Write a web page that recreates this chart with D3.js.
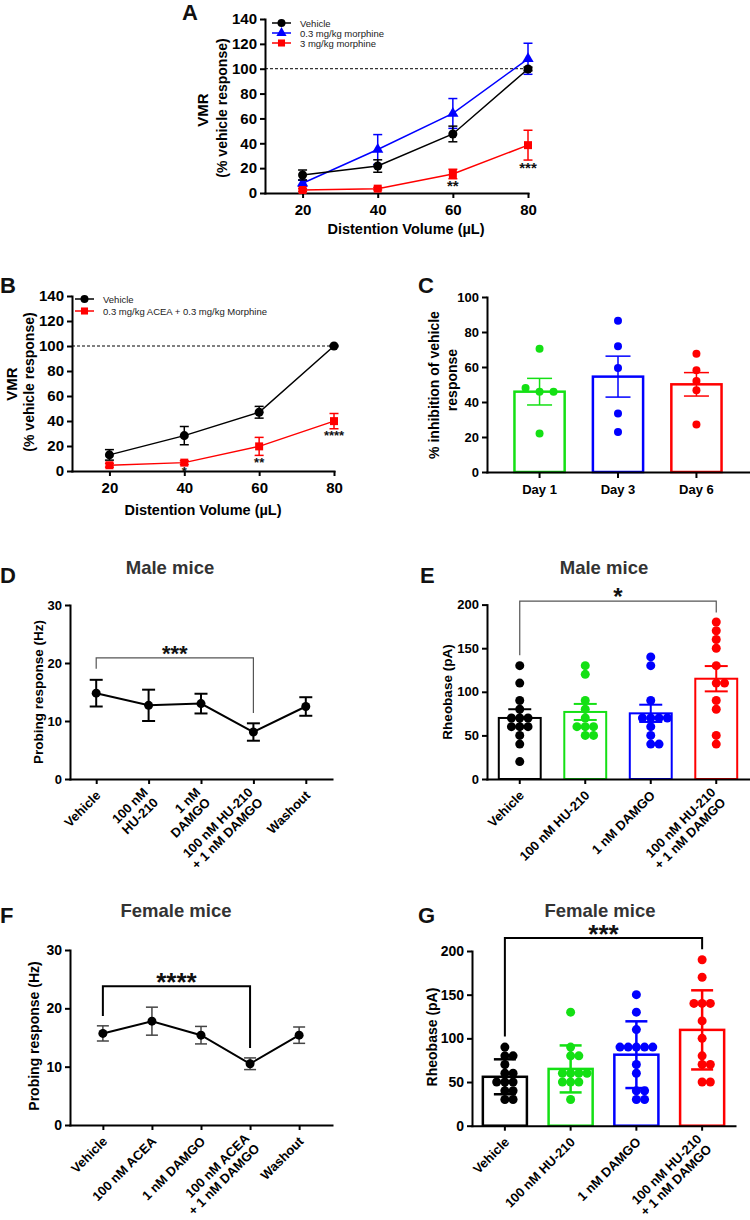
<!DOCTYPE html>
<html>
<head>
<meta charset="utf-8">
<script src="https://cdn.jsdelivr.net/npm/d3@7"></script>
<style>
  body { margin: 0; background: #fff; }
</style>
</head>
<body>
<svg id="figure" width="750" height="1220"></svg>
<script>
// ---- data ----
const volumes = [20, 40, 60, 80];
const vmrTicks = [0, 20, 40, 60, 80, 100, 120, 140];

// A
const aVehicle = [14.5, 21.7, 47.5, 99.8];
const aVehicleSem = [4, 5, 6.3, 1.5];
const aMorphLow = [7.8, 35, 64, 108];
const aMorphLowSem = [2.5, 12, 12, 12.5];
const aMorphHigh = [2.4, 3.5, 15.3, 38.5];
const aMorphHighSem = [1, 1, 3.8, 12];
const aStars = ['', '', '**', '***'];
const aLegend = ['Vehicle', '0.3 mg/kg morphine', '3 mg/kg morphine'];

// B
const bVehicle = [12.9, 28.3, 47, 100];
const bVehicleSem = [4.2, 7.3, 4.7, 0.5];
const bCombo = [4.6, 6.7, 19.7, 39.9];
const bComboSem = [1.5, 1.5, 7.2, 6.1];
const bStars = ['', '*', '**', '****'];
const bLegend = ['Vehicle', '0.3 mg/kg ACEA + 0.3 mg/kg Morphine'];

// C
const days = ['Day 1', 'Day 3', 'Day 6'];
const cTicks = [0, 20, 40, 60, 80, 100];
const cPoints = [
  [70.5, 48, 45.8, 45.8, 22],
  [86.5, 71.8, 59.4, 33.5, 22.9],
  [67.6, 58.1, 52, 46.7, 27.2]
];
const cMean = [45.9, 54.5, 50.1];
const cSem = [7.6, 11.7, 6.7];

// D
const dLabels = [['Vehicle'], ['100 nM', 'HU-210'], ['1 nM', 'DAMGO'], ['100 nM HU-210', '+ 1 nM DAMGO'], ['Washout']];
const dMean = [14.8, 12.7, 13.0, 8.1, 12.5];
const dSem = [2.3, 2.7, 1.7, 1.5, 1.6];
const dSigPair = [0, 3];
const dSigLevels = [20.9, 19, 11.4];
const dSigText = '***';

// E
const eLabels = [['Vehicle'], ['100 nM HU-210'], ['1 nM DAMGO'], ['100 nM HU-210', '+ 1 nM DAMGO']];
const ePoints = [
  [130, 110, 90, 80, 70, 70, 70, 60, 60, 60, 50, 40, 20],
  [130, 120, 90, 80, 70, 60, 60, 60, 50, 50],
  [140, 130, 90, 70, 70, 70, 70, 60, 50, 40, 40],
  [180, 170, 160, 150, 130, 110, 110, 90, 80, 50, 40]
];
const eMean = [70, 76.9, 75.3, 115];
const eSem = [10, 9.2, 9.9, 14.5];
const eSigPair = [0, 3];
const eSigLevels = [204, 142, 191];
const eSigText = '*';

// F
const fLabels = [['Vehicle'], ['100 nM ACEA'], ['1 nM DAMGO'], ['100 nM ACEA', '+ 1 nM DAMGO'], ['Washout']];
const fMean = [15.7, 17.8, 15.4, 10.5, 15.4];
const fSem = [1.3, 2.4, 1.5, 1.0, 1.4];
const fSigPair = [0, 3];
const fSigLevels = [23.8, 18.7, 13.2];
const fSigText = '****';

// G
const gLabels = eLabels;
const gPoints = [
  [90, 80, 80, 70, 60, 60, 50, 50, 50, 40, 40, 30, 30],
  [130, 90, 80, 80, 60, 60, 60, 60, 50, 50, 50, 30],
  [150, 130, 110, 90, 90, 90, 90, 90, 70, 60, 40, 40, 30, 30],
  [190, 170, 140, 140, 140, 120, 100, 80, 70, 70, 50, 50]
];
const gMean = [56, 65, 81.3, 109.7];
const gSd = [20, 26.9, 38.2, 45.3];
const gSigPair = [0, 3];
const gSigLevels = [215, 102, 202];
const gSigText = '***';

const rheoTicks = [0, 50, 100, 150, 200];
const hzTicks = [0, 10, 20, 30];

// ---- drawing ----
const FONT = '"Liberation Sans", Arial, Helvetica, sans-serif';
const GREEN = '#14e014';
const groupColors = ['#000', GREEN, '#0000ff', '#ff0000'];

const svg = d3.select('#figure').attr('font-family', FONT);
svg.append('rect').attr('width', 750).attr('height', 1220).attr('fill', '#fff');

function label(g, x, y, s, size, opts = {}) {
  return g.append('text')
    .attr('x', x).attr('y', y)
    .attr('font-size', size)
    .attr('font-weight', opts.weight || 'bold')
    .attr('fill', opts.fill || '#000')
    .attr('text-anchor', opts.anchor || 'middle')
    .text(s);
}

function vlabel(g, x, y, s, size) {
  return g.append('text')
    .attr('transform', `translate(${x},${y}) rotate(-90)`)
    .attr('dy', '0.35em')
    .attr('font-size', size).attr('font-weight', 'bold')
    .attr('text-anchor', 'middle')
    .text(s);
}

function styleAxis(sel, size) {
  sel.attr('font-family', FONT).attr('font-size', size);
  sel.select('.domain').attr('stroke', '#000').attr('stroke-width', 2).attr('stroke-linecap', 'square');
  sel.selectAll('.tick line').attr('stroke', '#000').attr('stroke-width', 2);
  sel.selectAll('.tick text').attr('font-weight', 'bold').attr('fill', '#000');
}

// rotated, possibly two-line category labels under an axis
function rotLabels(g, xs, labels, y0, size) {
  labels.forEach((lines, i) => {
    const n = lines.length;
    const t = g.append('text')
      .attr('transform', `translate(${xs(i) + 2},${y0 + 14 + (n - 1) * 2}) rotate(-45)`)
      .attr('text-anchor', 'end')
      .attr('font-size', size).attr('font-weight', 'bold');
    lines.forEach((s, j) => {
      t.append('tspan').attr('x', 0)
        .attr('dy', j === 0 ? `${0.35 - (n - 1) * 0.55}em` : '1.1em')
        .text(s);
    });
  });
}

function errorBar(g, x, yTop, yBot, half, color, width) {
  const e = g.append('g').attr('stroke', color).attr('stroke-width', width).attr('fill', 'none');
  e.append('line').attr('x1', x).attr('x2', x).attr('y1', yTop).attr('y2', yBot);
  e.append('line').attr('x1', x - half).attr('x2', x + half).attr('y1', yTop).attr('y2', yTop);
  e.append('line').attr('x1', x - half).attr('x2', x + half).attr('y1', yBot).attr('y2', yBot);
}

function bracket(g, x, y, pair, levels, text, color, width, starSize) {
  const [a, b] = pair;
  const [top, left, right] = levels;
  g.append('path')
    .attr('d', `M${x(a)},${y(left)}V${y(top)}H${x(b)}V${y(right)}`)
    .attr('fill', 'none').attr('stroke', color).attr('stroke-width', width);
  label(g, (x(a) + x(b)) / 2, y(top) - 10 + 0.58 * starSize, text, starSize, { fill: '#111' });
}

// ---------- A / B: dose-response lines ----------
function xySeries(g, x, y, vals, sems, color, symbol, size, stars, starSize) {
  const pts = volumes.map((v, i) => ({ x: x(v), m: vals[i], e: sems[i], s: stars ? stars[i] : '' }));
  g.append('path').datum(pts)
    .attr('d', d3.line().x(d => d.x).y(d => y(d.m)))
    .attr('fill', 'none').attr('stroke', color).attr('stroke-width', 1.5);
  pts.forEach(d => errorBar(g, d.x, y(d.m + d.e), y(d.m - d.e), 4.5, color, 1.5));
  g.selectAll(null).data(pts).join('path')
    .attr('transform', d => `translate(${d.x},${y(d.m)})`)
    .attr('d', d3.symbol(symbol, size))
    .attr('fill', color);
  pts.filter(d => d.s).forEach(d => {
    label(g, d.x, y(d.m - d.e) + 4 + 0.58 * starSize, d.s, starSize, { fill: '#111' });
  });
}

function legend(g, x0, y0, rows, items, size) {
  items.forEach((it, i) => {
    const yy = y0 + i * rows;
    g.append('line').attr('x1', x0).attr('x2', x0 + 19).attr('y1', yy).attr('y2', yy)
      .attr('stroke', it.color).attr('stroke-width', 1.5);
    g.append('path').attr('transform', `translate(${x0 + 9.5},${yy})`)
      .attr('d', d3.symbol(it.symbol, it.size)).attr('fill', it.color);
    label(g, x0 + 28, yy + 3.5, it.name, size, { weight: 'normal', anchor: 'start', fill: '#222' });
  });
}

function vmrPanel(g, x, y, x0, y0) {
  g.append('g').attr('transform', `translate(0,${y0})`)
    .call(d3.axisBottom(x).tickValues(volumes).tickSize(5).tickPadding(6).tickSizeOuter(0))
    .call(styleAxis, 15);
  g.append('g').attr('transform', `translate(${x0},0)`)
    .call(d3.axisLeft(y).tickValues(vmrTicks).tickSize(5).tickSizeOuter(0))
    .call(styleAxis, 15);
  g.append('line')
    .attr('x1', x0).attr('x2', x(80)).attr('y1', y(100)).attr('y2', y(100))
    .attr('stroke', '#000').attr('stroke-width', 1).attr('stroke-dasharray', '3,2');
}

// Panel A
{
  const g = svg.append('g');
  const x = d3.scaleLinear().domain([10, 80]).range([265, 528]);
  const y = d3.scaleLinear().domain([0, 140]).range([193, 19]);
  vmrPanel(g, x, y, 265, 193);
  xySeries(g, x, y, aMorphLow, aMorphLowSem, '#0000ff', d3.symbolTriangle, 55);
  xySeries(g, x, y, aVehicle, aVehicleSem, '#000', d3.symbolCircle, 64);
  xySeries(g, x, y, aMorphHigh, aMorphHighSem, '#ff0000', d3.symbolSquare, 64, aStars, 15);
  legend(g, 272, 23, 10, [
    { name: aLegend[0], color: '#000', symbol: d3.symbolCircle, size: 50 },
    { name: aLegend[1], color: '#0000ff', symbol: d3.symbolTriangle, size: 45 },
    { name: aLegend[2], color: '#ff0000', symbol: d3.symbolSquare, size: 50 }
  ], 9.5);
  label(g, 406, 234, 'Distention Volume (µL)', 14.5);
  vlabel(g, 203, 110, 'VMR', 15);
  vlabel(g, 222, 108, '(% vehicle response)', 14);
  label(g, 182, 20, 'A', 22, { anchor: 'start', fill: '#111' });
}

// Panel B
{
  const g = svg.append('g');
  const x = d3.scaleLinear().domain([10, 80]).range([72, 334]);
  const y = d3.scaleLinear().domain([0, 140]).range([471, 296]);
  vmrPanel(g, x, y, 72, 471);
  xySeries(g, x, y, bVehicle, bVehicleSem, '#000', d3.symbolCircle, 64);
  xySeries(g, x, y, bCombo, bComboSem, '#ff0000', d3.symbolSquare, 64, bStars, 13);
  legend(g, 75, 299, 12, [
    { name: bLegend[0], color: '#000', symbol: d3.symbolCircle, size: 50 },
    { name: bLegend[1], color: '#ff0000', symbol: d3.symbolSquare, size: 50 }
  ], 9.5);
  label(g, 203, 515, 'Distention Volume (µL)', 14.5);
  vlabel(g, 12, 384, 'VMR', 15);
  vlabel(g, 29, 382, '(% vehicle response)', 14);
  label(g, 0, 293, 'B', 22, { anchor: 'start', fill: '#111' });
}

// ---------- bar + scatter panels ----------
function swarm(vals, y, r, step) {
  const placed = [];
  vals.slice().sort((a, b) => a - b).forEach(v => {
    const py = y(v);
    let off = 0;
    for (let n = 0; n < 30; n++) {
      off = n === 0 ? 0 : (n % 2 ? 1 : -1) * Math.ceil(n / 2) * step;
      if (placed.every(p => Math.hypot(p.dx - off, p.py - py) >= r * 1.75)) break;
    }
    placed.push({ v, dx: off, py });
  });
  return placed;
}

function barGroups(g, x, y, cats, points, means, errs, o) {
  const bw = x.bandwidth();
  cats.forEach((c, i) => {
    const cx = x(c) + bw / 2;
    const col = groupColors[o.colorIdx ? o.colorIdx[i] : i];
    g.append('rect')
      .attr('x', x(c)).attr('y', y(means[i]))
      .attr('width', bw).attr('height', y(0) - y(means[i]))
      .attr('fill', '#fff').attr('stroke', col).attr('stroke-width', o.barStroke);
    g.selectAll(null).data(swarm(points[i], y, o.r, o.step)).join('circle')
      .attr('cx', d => cx + d.dx).attr('cy', d => d.py).attr('r', o.r)
      .attr('fill', col);
    errorBar(g, cx, y(means[i] + errs[i]), y(means[i] - errs[i]), o.cap, col, o.errStroke);
  });
}

// Panel C
{
  const g = svg.append('g');
  const x = d3.scaleBand().domain(days).range([487, 749]).paddingInner(0.36).paddingOuter(0.35);
  const y = d3.scaleLinear().domain([0, 100]).range([472, 297]);
  barGroups(g, x, y, days, cPoints, cMean, cSem,
    { r: 4, step: 14, cap: 12.5, barStroke: 2.5, errStroke: 1.5, colorIdx: [1, 2, 3] });
  g.append('g').attr('transform', 'translate(0,472)')
    .call(d3.axisBottom(x).tickSize(6).tickPadding(7).tickSizeOuter(0))
    .call(styleAxis, 13);
  g.append('g').attr('transform', 'translate(487,0)')
    .call(d3.axisLeft(y).tickValues(cTicks).tickSize(5).tickSizeOuter(0))
    .call(styleAxis, 13);
  vlabel(g, 434, 385, '% inhibition of vehicle', 14);
  vlabel(g, 452, 380, 'response', 14);
  label(g, 418, 293, 'C', 22, { anchor: 'start', fill: '#111' });
}

// ---------- D / F: line panels ----------
function probePanel(g, x, y, y0, labels, means, sems, o) {
  const idx = d3.range(means.length);
  g.append('g').attr('transform', `translate(0,${y0})`)
    .call(d3.axisBottom(x).tickFormat('').tickSize(5).tickSizeOuter(0))
    .call(styleAxis, 13);
  g.append('g').attr('transform', `translate(${x.range()[0]},0)`)
    .call(d3.axisLeft(y).tickValues(hzTicks).tickSize(5).tickSizeOuter(0))
    .call(styleAxis, o.tickSize);
  rotLabels(g, x, labels, y0, o.labelSize);
  g.append('path').datum(idx)
    .attr('d', d3.line().x(i => x(i)).y(i => y(means[i])))
    .attr('fill', 'none').attr('stroke', '#000').attr('stroke-width', 2);
  idx.forEach(i => errorBar(g, x(i), y(means[i] + sems[i]), y(means[i] - sems[i]), o.cap, o.errColor, o.errStroke));
  g.selectAll(null).data(idx).join('circle')
    .attr('cx', i => x(i)).attr('cy', i => y(means[i])).attr('r', 4.5).attr('fill', '#000');
}

// Panel D
{
  const g = svg.append('g');
  const x = d3.scalePoint().domain(d3.range(dMean.length)).range([70, 332]).padding(0.5);
  const y = d3.scaleLinear().domain([0, 30]).range([779, 605]);
  probePanel(g, x, y, 779, dLabels, dMean, dSem,
    { tickSize: 13, labelSize: 13, cap: 6.5, errColor: '#000', errStroke: 2 });
  bracket(g, x, y, dSigPair, dSigLevels, dSigText, '#555', 1.2, 22);
  label(g, 170, 574, 'Male mice', 18.5, { fill: '#333' });
  vlabel(g, 38, 692, 'Probing response (Hz)', 13.5);
  label(g, 0, 583, 'D', 22, { anchor: 'start', fill: '#111' });
}

// Panel E
{
  const g = svg.append('g');
  const cats = d3.range(eMean.length);
  const x = d3.scaleBand().domain(cats).range([487, 749]).paddingInner(0.36).paddingOuter(0.18);
  const y = d3.scaleLinear().domain([0, 200]).range([779, 604.6]);
  barGroups(g, x, y, cats, ePoints, eMean, eSem,
    { r: 4.5, step: 8.3, cap: 11.5, barStroke: 2, errStroke: 2 });
  g.append('g').attr('transform', 'translate(0,779)')
    .call(d3.axisBottom(x).tickFormat('').tickSize(5).tickSizeOuter(0))
    .call(styleAxis, 13);
  g.append('g').attr('transform', 'translate(487,0)')
    .call(d3.axisLeft(y).tickValues(rheoTicks).tickSize(5).tickSizeOuter(0))
    .call(styleAxis, 13);
  const cx = i => x(i) + x.bandwidth() / 2;
  rotLabels(g, cx, eLabels, 779, 13);
  bracket(g, cx, y, eSigPair, eSigLevels, eSigText, '#555', 1.2, 24);
  label(g, 604, 574, 'Male mice', 18.5, { fill: '#333' });
  vlabel(g, 447, 692, 'Rheobase (pA)', 13.5);
  label(g, 420, 583, 'E', 22, { anchor: 'start', fill: '#111' });
}

// Panel F
{
  const g = svg.append('g');
  const x = d3.scalePoint().domain(d3.range(fMean.length)).range([70, 332]).padding(0.67);
  const y = d3.scaleLinear().domain([0, 30]).range([1125, 950]);
  probePanel(g, x, y, 1125, fLabels, fMean, fSem,
    { tickSize: 14, labelSize: 13, cap: 6, errColor: '#444', errStroke: 1.5 });
  bracket(g, x, y, fSigPair, fSigLevels, fSigText, '#000', 2, 26);
  label(g, 176, 917, 'Female mice', 18.5, { fill: '#333' });
  vlabel(g, 34, 1036, 'Probing response (Hz)', 14);
  label(g, 0, 923, 'F', 22, { anchor: 'start', fill: '#111' });
}

// Panel G
{
  const g = svg.append('g');
  const cats = d3.range(gMean.length);
  const x = d3.scaleBand().domain(cats).range([472, 735]).paddingInner(0.33).paddingOuter(0.165);
  const y = d3.scaleLinear().domain([0, 200]).range([1125.7, 951]);
  barGroups(g, x, y, cats, gPoints, gMean, gSd,
    { r: 4.5, step: 8.2, cap: 11, barStroke: 2.5, errStroke: 2.5 });
  g.append('g').attr('transform', 'translate(0,1125.7)')
    .call(d3.axisBottom(x).tickFormat('').tickSize(5).tickSizeOuter(0))
    .call(styleAxis, 14);
  g.append('g').attr('transform', 'translate(472,0)')
    .call(d3.axisLeft(y).tickValues(rheoTicks).tickSize(5).tickSizeOuter(0))
    .call(styleAxis, 14);
  const cx = i => x(i) + x.bandwidth() / 2;
  rotLabels(g, cx, gLabels, 1125.7, 13);
  bracket(g, cx, y, gSigPair, gSigLevels, gSigText, '#000', 2, 26);
  label(g, 600, 917, 'Female mice', 18.5, { fill: '#333' });
  vlabel(g, 432, 1037, 'Rheobase (pA)', 14);
  label(g, 418, 923, 'G', 22, { anchor: 'start', fill: '#111' });
}
</script>
</body>
</html>
